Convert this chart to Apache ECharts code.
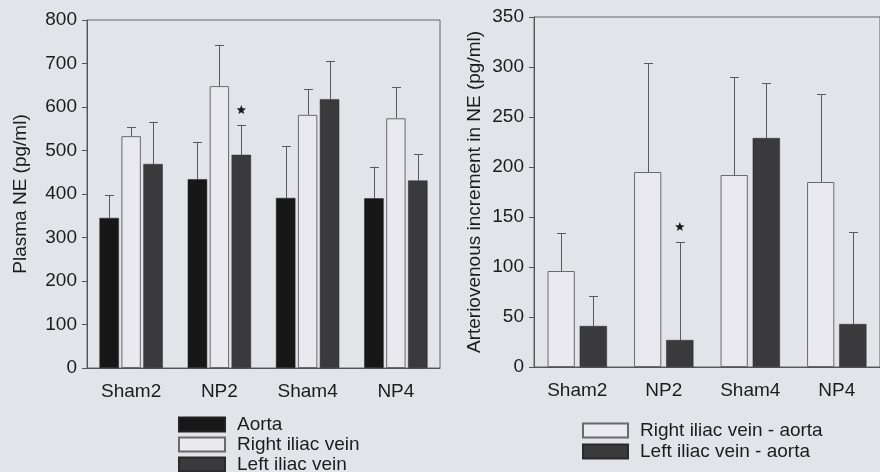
<!DOCTYPE html>
<html>
<head>
<meta charset="utf-8">
<script src="https://cdn.jsdelivr.net/npm/echarts@6/dist/echarts.min.js"></script>
<style>
html,body{margin:0;padding:0;background:#e3e3ea;}
#chart{width:880px;height:472px;}
</style>
</head>
<body>
<div id="chart"></div>
<script>
// ---- data ----
const categories = ['Sham2', 'NP2', 'Sham4', 'NP4'];

// Left panel: Plasma NE (pg/ml), mean and SD (upper error)
const aorta = [345, 434, 391, 390];
const aortaSD = [53, 86, 119, 73];
const rightVein = [533, 648, 582, 574];
const rightVeinSD = [21, 95, 59, 71];
const leftVein = [469, 490, 618, 431];
const leftVeinSD = [97, 69, 88, 61];
const leftTicks = { min: 0, max: 800, interval: 100 };
// significance stars: [categoryIndex, seriesIndexInGroup, value]
const leftStars = [[1, 2, 593]];

// Right panel: Arteriovenous increment in NE (pg/ml)
const rightMinusAorta = [96, 195, 192, 185];
const rightMinusAortaSD = [38, 109, 98, 88];
const leftMinusAorta = [41, 27, 229, 43];
const leftMinusAortaSD = [30, 98, 55, 92];
const rightTicks = { min: 0, max: 350, interval: 50 };
const rightStars = [[1, 1, 140]];

// ---- styling ----
const FONT = '"Liberation Sans", Arial, sans-serif';
const FS = 19;
const TXT = '#1c1c1c';
const AX = '#555';
const BLACK = '#171717';
const DARK = '#3a3a3c';
const WHITE = '#e9e9ef';

const L = { n: 3, w: 0.22, gap: 0.13 };
const R = { n: 2, w: 0.315, gap: 0.18 };

function offsetFor(api, cfg, i) {
  const band = api.size([1, 0])[0];
  const w = band * cfg.w;
  const g = w * cfg.gap;
  const total = cfg.n * w + (cfg.n - 1) * g;
  return -total / 2 + i * (w + g) + w / 2;
}

function errSeries(xi, cfg, means, sds, idx) {
  return {
    type: 'custom', xAxisIndex: xi, yAxisIndex: xi, silent: true, z: 1,
    data: means.map((m, k) => [k, m, m + sds[k]]),
    renderItem: function (params, api) {
      const off = offsetFor(api, cfg, idx);
      const p0 = api.coord([api.value(0), api.value(1)]);
      const p1 = api.coord([api.value(0), api.value(2)]);
      const x = Math.round(p0[0] + off) + 0.5;
      const st = { stroke: '#5a5a5a', lineWidth: 1 };
      return {
        type: 'group', children: [
          { type: 'line', shape: { x1: x, y1: p0[1], x2: x, y2: p1[1] }, style: st },
          { type: 'line', shape: { x1: x - 4.5, y1: Math.round(p1[1]) + 0.5, x2: x + 4.5, y2: Math.round(p1[1]) + 0.5 }, style: st }
        ]
      };
    }
  };
}

function starSeries(xi, cfg, stars) {
  return {
    type: 'custom', xAxisIndex: xi, yAxisIndex: xi, silent: true, z: 5,
    data: stars.map(s => [s[0], s[2], s[1]]),
    renderItem: function (params, api) {
      const off = offsetFor(api, cfg, api.value(2));
      const p = api.coord([api.value(0), api.value(1)]);
      const cx = p[0] + off, cy = p[1];
      const pts = [];
      for (let k = 0; k < 10; k++) {
        const r = k % 2 === 0 ? 5 : 2.1;
        const a = -Math.PI / 2 + k * Math.PI / 5;
        pts.push([cx + r * Math.cos(a), cy + r * Math.sin(a)]);
      }
      return { type: 'polygon', shape: { points: pts }, style: { fill: '#1a1a1a' } };
    }
  };
}

function yAxis(gi, t, name, gap) {
  return {
    type: 'value', gridIndex: gi, min: t.min, max: t.max, interval: t.interval,
    name: name, nameLocation: 'middle', nameGap: gap,
    nameTextStyle: { fontFamily: FONT, fontSize: FS, color: TXT },
    axisLine: { show: true, lineStyle: { color: AX } },
    axisTick: { show: true, length: 5, lineStyle: { color: AX } },
    axisLabel: { fontFamily: FONT, fontSize: FS, color: TXT, margin: 10 },
    splitLine: { show: false }
  };
}
function xAxis(gi) {
  return {
    type: 'category', gridIndex: gi, data: categories,
    axisLine: { lineStyle: { color: AX } },
    axisTick: { show: false },
    axisLabel: { fontFamily: FONT, fontSize: FS, color: TXT, margin: 14 }
  };
}

const barBase = { type: 'bar', z: 2 };

const option = {
  backgroundColor: '#e3e3ea',
  animation: false,
  grid: [
    { left: 87, top: 20, width: 353, height: 348, show: true, borderColor: '#666', borderWidth: 1, backgroundColor: 'transparent' },
    { left: 534, top: 17, width: 354, height: 350, show: true, borderColor: '#666', borderWidth: 1, backgroundColor: 'transparent' }
  ],
  xAxis: [xAxis(0), xAxis(1)],
  yAxis: [
    yAxis(0, leftTicks, 'Plasma NE (pg/ml)', 57),
    yAxis(1, rightTicks, 'Arteriovenous increment in NE (pg/ml)', 50)
  ],
  legend: [
    {
      orient: 'vertical', left: 178, top: 415, height: 120, padding: 0, icon: 'rect',
      itemWidth: 46, itemHeight: 14, itemGap: 1,
      textStyle: { fontFamily: FONT, fontSize: FS, color: TXT, padding: [0, 0, 0, 7] },
      data: ['Aorta', 'Right iliac vein', 'Left iliac vein'], selectedMode: false
    },
    {
      orient: 'vertical', left: 582, top: 421, height: 120, padding: 0, icon: 'rect',
      itemWidth: 45, itemHeight: 14, itemGap: 2,
      textStyle: { fontFamily: FONT, fontSize: FS, color: TXT, padding: [0, 0, 0, 7] },
      data: ['Right iliac vein - aorta', 'Left iliac vein - aorta'], selectedMode: false
    }
  ],
  series: [
    Object.assign({}, barBase, { name: 'Aorta', xAxisIndex: 0, yAxisIndex: 0, data: aorta, barWidth: '22%', barGap: '13%',
      itemStyle: { color: BLACK, borderColor: '#222', borderWidth: 0.5 } }),
    Object.assign({}, barBase, { name: 'Right iliac vein', xAxisIndex: 0, yAxisIndex: 0, data: rightVein, barWidth: '22%', barGap: '13%',
      itemStyle: { color: WHITE, borderColor: '#6a6a6a', borderWidth: 1 } }),
    Object.assign({}, barBase, { name: 'Left iliac vein', xAxisIndex: 0, yAxisIndex: 0, data: leftVein, barWidth: '22%', barGap: '13%',
      itemStyle: { color: DARK, borderColor: '#2a2a2a', borderWidth: 0.5 } }),
    errSeries(0, L, aorta, aortaSD, 0),
    errSeries(0, L, rightVein, rightVeinSD, 1),
    errSeries(0, L, leftVein, leftVeinSD, 2),
    starSeries(0, L, leftStars),

    Object.assign({}, barBase, { name: 'Right iliac vein - aorta', xAxisIndex: 1, yAxisIndex: 1, data: rightMinusAorta, barWidth: '31.5%', barGap: '18%',
      itemStyle: { color: WHITE, borderColor: '#6a6a6a', borderWidth: 1 } }),
    Object.assign({}, barBase, { name: 'Left iliac vein - aorta', xAxisIndex: 1, yAxisIndex: 1, data: leftMinusAorta, barWidth: '31.5%', barGap: '18%',
      itemStyle: { color: DARK, borderColor: '#2a2a2a', borderWidth: 0.5 } }),
    errSeries(1, R, rightMinusAorta, rightMinusAortaSD, 0),
    errSeries(1, R, leftMinusAorta, leftMinusAortaSD, 1),
    starSeries(1, R, rightStars)
  ]
};

const chart = echarts.init(document.getElementById('chart'), null, { renderer: 'canvas' });
chart.setOption(option);
</script>
</body>
</html>
